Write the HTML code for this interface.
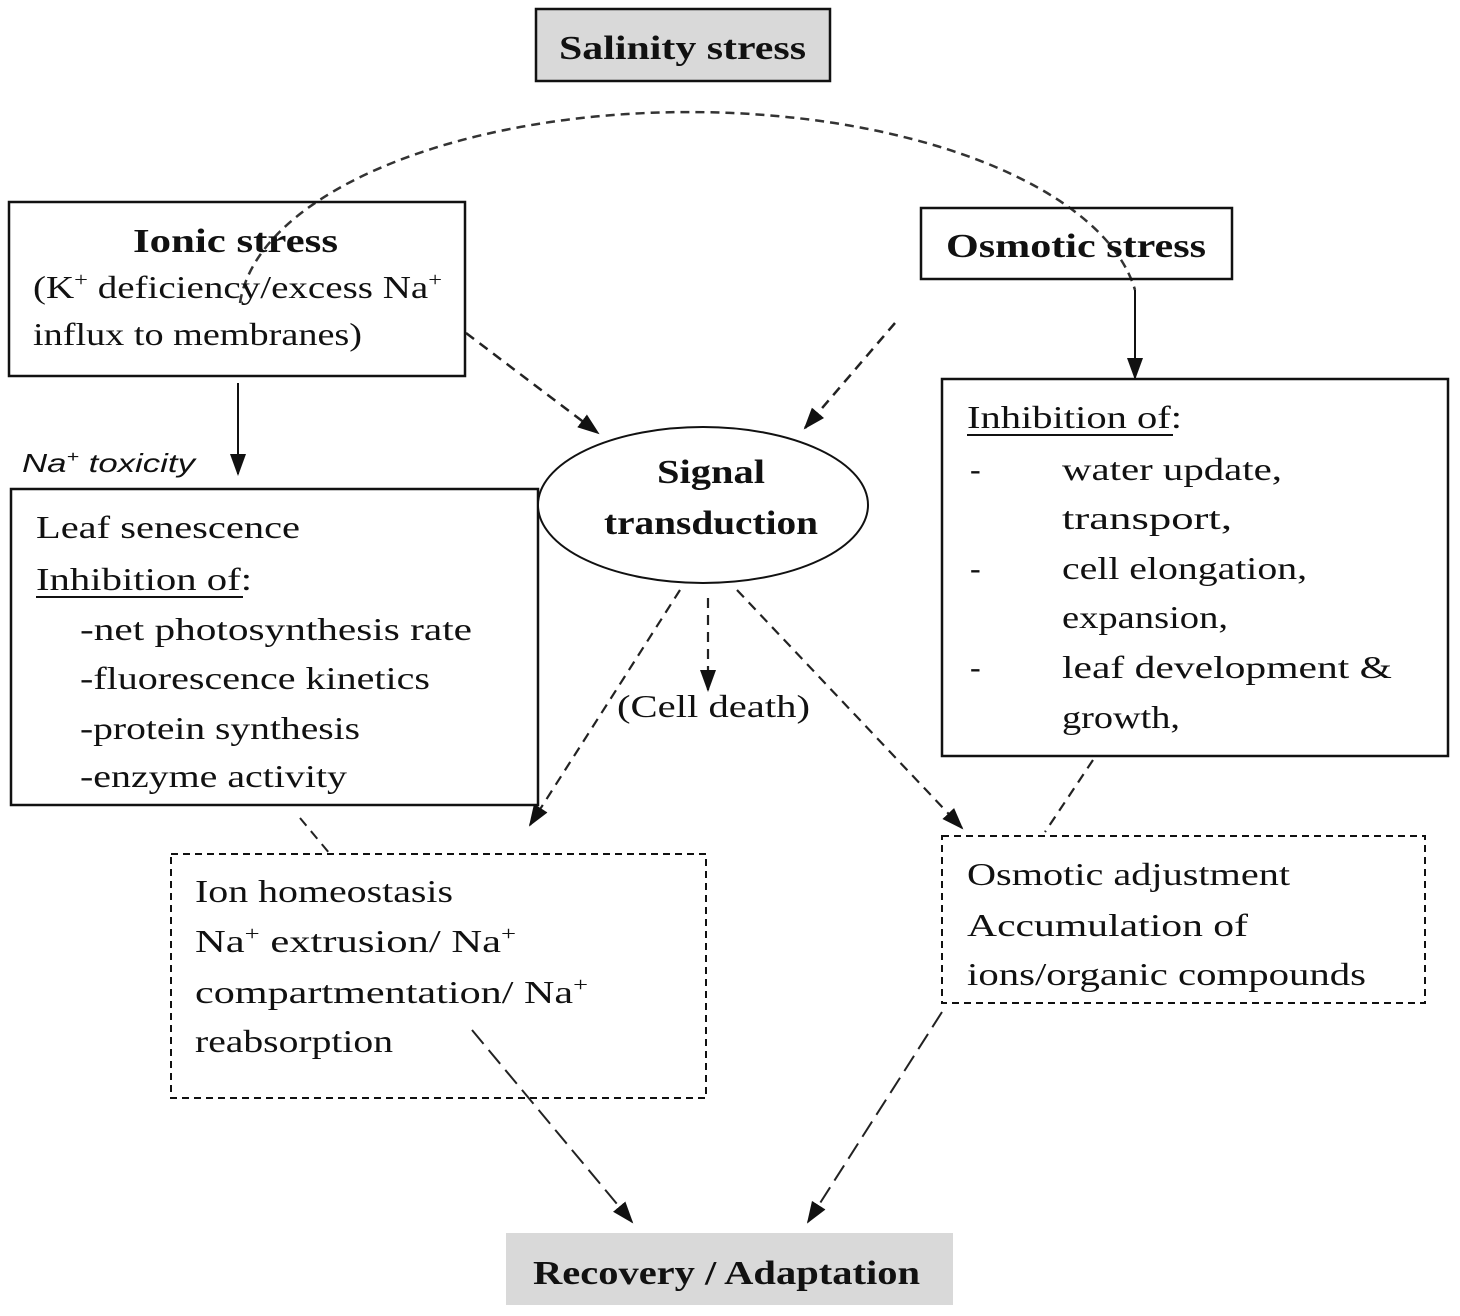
<!DOCTYPE html>
<html><head><meta charset="utf-8"><style>
html,body{margin:0;padding:0;background:#fff;}
svg{display:block;}
text{font-family:"Liberation Serif",serif;fill:#111;}
.b{font-weight:bold;font-size:34px;}
.n{font-size:32px;}
</style></head><body>
<svg width="1460" height="1316" viewBox="0 0 1460 1316" xmlns="http://www.w3.org/2000/svg">
<defs>
<marker id="ah" markerWidth="10" markerHeight="10" refX="9" refY="5" orient="auto" markerUnits="userSpaceOnUse" viewBox="0 0 10 10">
<path d="M0,0 L10,5 L0,10 z" fill="#111"/>
</marker>
<marker id="ah2" markerWidth="22" markerHeight="22" refX="20" refY="11" orient="auto" markerUnits="userSpaceOnUse" viewBox="0 0 22 22">
<path d="M0,3 L22,11 L0,19 z" fill="#111"/>
</marker>
</defs>

<!-- dashed arc from Salinity -->
<path d="M240,303 A450,205 0 0 1 1135,290" fill="none" stroke="#333" stroke-width="2.5" stroke-dasharray="9,6"/>

<!-- Salinity box -->
<rect x="536" y="9" width="294" height="72" fill="#d9d9d9" stroke="#111" stroke-width="2.5"/>
<text class="b" x="559" y="59" textLength="247" lengthAdjust="spacingAndGlyphs">Salinity stress</text>

<!-- Ionic stress box -->
<rect x="9" y="202" width="456" height="174" fill="none" stroke="#111" stroke-width="2.5"/>
<text class="b" x="133" y="252" textLength="205" lengthAdjust="spacingAndGlyphs">Ionic stress</text>
<text class="n" x="33" y="298" textLength="409" lengthAdjust="spacingAndGlyphs">(K<tspan font-size="20" dy="-12">+</tspan><tspan dy="12"> deficiency/excess Na</tspan><tspan font-size="20" dy="-12">+</tspan></text>
<text class="n" x="33" y="345" textLength="329" lengthAdjust="spacingAndGlyphs">influx to membranes)</text>

<!-- Osmotic stress box -->
<rect x="921" y="208" width="311" height="71" fill="none" stroke="#111" stroke-width="2.5"/>
<text class="b" x="946" y="257" textLength="260" lengthAdjust="spacingAndGlyphs">Osmotic stress</text>

<!-- solid arrows -->
<line x1="238" y1="383" x2="238" y2="474" stroke="#111" stroke-width="2" marker-end="url(#ah2)"/>
<line x1="1135" y1="290" x2="1135" y2="378" stroke="#111" stroke-width="2" marker-end="url(#ah2)"/>

<!-- Na toxicity -->
<text x="22" y="472" font-family="Liberation Sans, sans-serif" font-style="italic" font-size="26" textLength="173" lengthAdjust="spacingAndGlyphs" style="font-family:'Liberation Sans',sans-serif">Na<tspan font-size="16" dy="-10">+</tspan><tspan dy="10"> toxicity</tspan></text>

<!-- Leaf box -->
<rect x="11" y="489" width="527" height="316" fill="#fff" stroke="#111" stroke-width="2.5"/>
<text class="n" x="36" y="538" textLength="264" lengthAdjust="spacingAndGlyphs">Leaf senescence</text>
<text class="n" x="36" y="590" textLength="216" lengthAdjust="spacingAndGlyphs">Inhibition of:</text>
<line x1="36" y1="597" x2="243" y2="597" stroke="#111" stroke-width="2"/>
<text class="n" x="80" y="640" textLength="392" lengthAdjust="spacingAndGlyphs">-net photosynthesis rate</text>
<text class="n" x="80" y="689" textLength="350" lengthAdjust="spacingAndGlyphs">-fluorescence kinetics</text>
<text class="n" x="80" y="739" textLength="280" lengthAdjust="spacingAndGlyphs">-protein synthesis</text>
<text class="n" x="80" y="787" textLength="267" lengthAdjust="spacingAndGlyphs">-enzyme activity</text>

<!-- Ellipse -->
<ellipse cx="703" cy="505" rx="165" ry="78" fill="#fff" stroke="#111" stroke-width="2"/>
<text class="b" x="657" y="483" textLength="108" lengthAdjust="spacingAndGlyphs">Signal</text>
<text class="b" x="604" y="534" textLength="214" lengthAdjust="spacingAndGlyphs">transduction</text>

<!-- dashed arrows to signal -->
<line x1="466" y1="333" x2="598" y2="433" stroke="#222" stroke-width="2.5" stroke-dasharray="10,7" marker-end="url(#ah2)"/>
<line x1="895" y1="323" x2="805" y2="428" stroke="#222" stroke-width="2.5" stroke-dasharray="10,7" marker-end="url(#ah2)"/>

<!-- from signal -->
<line x1="680" y1="590" x2="530" y2="825" stroke="#222" stroke-width="2.2" stroke-dasharray="10,7" marker-end="url(#ah2)"/>
<line x1="708" y1="598" x2="708" y2="690" stroke="#222" stroke-width="2.2" stroke-dasharray="10,7" marker-end="url(#ah2)"/>
<line x1="737" y1="590" x2="962" y2="828" stroke="#222" stroke-width="2.2" stroke-dasharray="10,7" marker-end="url(#ah2)"/>
<text class="n" x="617" y="717" textLength="193" lengthAdjust="spacingAndGlyphs">(Cell death)</text>

<!-- Right inhibition box -->
<rect x="942" y="379" width="506" height="377" fill="#fff" stroke="#111" stroke-width="2.5"/>
<text class="n" x="967" y="428" textLength="215" lengthAdjust="spacingAndGlyphs">Inhibition of:</text>
<line x1="967" y1="435" x2="1173" y2="435" stroke="#111" stroke-width="2"/>
<text class="n" x="970" y="480">-</text>
<text class="n" x="1062" y="480" textLength="220" lengthAdjust="spacingAndGlyphs">water update,</text>
<text class="n" x="1062" y="529" textLength="170" lengthAdjust="spacingAndGlyphs">transport,</text>
<text class="n" x="970" y="579">-</text>
<text class="n" x="1062" y="579" textLength="245" lengthAdjust="spacingAndGlyphs">cell elongation,</text>
<text class="n" x="1062" y="628" textLength="166" lengthAdjust="spacingAndGlyphs">expansion,</text>
<text class="n" x="970" y="678">-</text>
<text class="n" x="1062" y="678" textLength="330" lengthAdjust="spacingAndGlyphs">leaf development &amp;</text>
<text class="n" x="1062" y="728" textLength="118" lengthAdjust="spacingAndGlyphs">growth,</text>

<!-- short dashed connectors -->
<line x1="1093" y1="760" x2="1045" y2="832" stroke="#222" stroke-width="2.2" stroke-dasharray="10,7"/>
<line x1="300" y1="818" x2="330" y2="854" stroke="#222" stroke-width="2" stroke-dasharray="10,7"/>

<!-- Ion homeostasis dashed box -->
<rect x="171" y="854" width="535" height="244" fill="none" stroke="#111" stroke-width="2" stroke-dasharray="7,5"/>
<text class="n" x="195" y="902" textLength="258" lengthAdjust="spacingAndGlyphs">Ion homeostasis</text>
<text class="n" x="195" y="952" textLength="321" lengthAdjust="spacingAndGlyphs">Na<tspan font-size="20" dy="-12">+</tspan><tspan dy="12"> extrusion/  Na</tspan><tspan font-size="20" dy="-12">+</tspan></text>
<text class="n" x="195" y="1003" textLength="393" lengthAdjust="spacingAndGlyphs">compartmentation/  Na<tspan font-size="20" dy="-12">+</tspan></text>
<text class="n" x="195" y="1052" textLength="198" lengthAdjust="spacingAndGlyphs">reabsorption</text>

<!-- Osmotic adjustment dashed box -->
<rect x="942" y="836" width="483" height="167" fill="none" stroke="#111" stroke-width="2" stroke-dasharray="7,5"/>
<text class="n" x="967" y="885" textLength="323" lengthAdjust="spacingAndGlyphs">Osmotic adjustment</text>
<text class="n" x="967" y="936" textLength="281" lengthAdjust="spacingAndGlyphs">Accumulation of</text>
<text class="n" x="967" y="985" textLength="399" lengthAdjust="spacingAndGlyphs">ions/organic compounds</text>

<!-- long dashed arrows to recovery -->
<line x1="472" y1="1030" x2="632" y2="1222" stroke="#222" stroke-width="2" stroke-dasharray="18,8" marker-end="url(#ah2)"/>
<line x1="942" y1="1012" x2="808" y2="1222" stroke="#222" stroke-width="2" stroke-dasharray="18,8" marker-end="url(#ah2)"/>

<!-- Recovery box -->
<rect x="506" y="1233" width="447" height="72" fill="#d9d9d9"/>
<text class="b" x="533" y="1284" textLength="387" lengthAdjust="spacingAndGlyphs">Recovery / Adaptation</text>
</svg>
</body></html>
